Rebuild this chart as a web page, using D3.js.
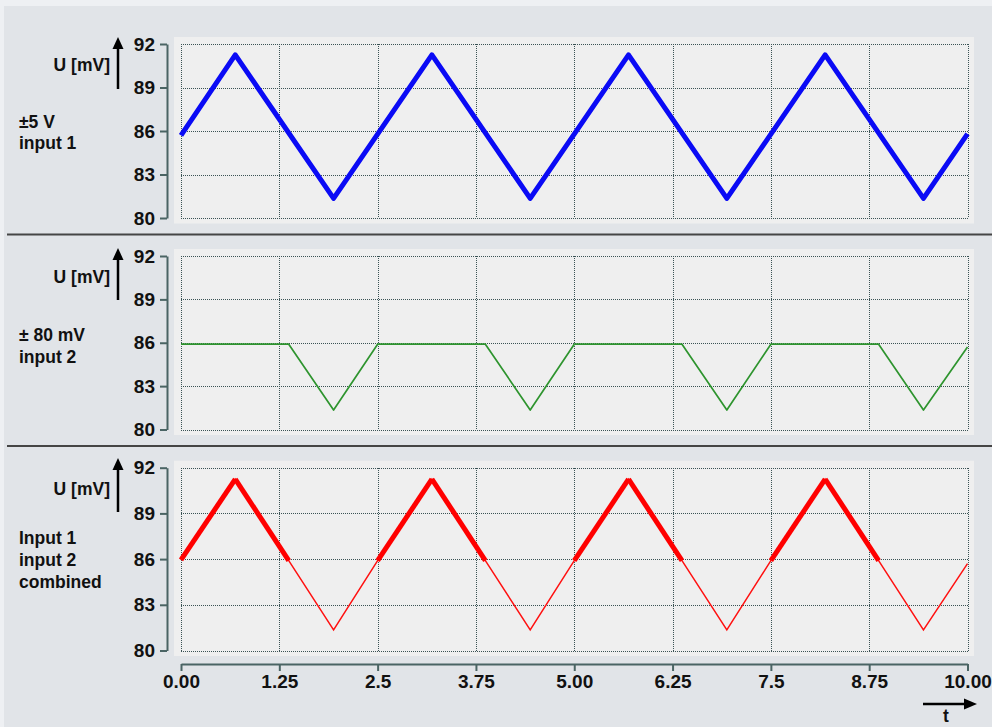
<!DOCTYPE html>
<html>
<head>
<meta charset="utf-8">
<script src="https://cdn.jsdelivr.net/npm/d3@7"></script>
<style>
  html, body { margin: 0; padding: 0; background: #eef0f3; }
  svg { display: block; }
</style>
</head>
<body>
<svg id="chart" width="992" height="727"></svg>
<script>
// ---------- data ----------
const xTicks = [0, 1.25, 2.5, 3.75, 5, 6.25, 7.5, 8.75, 10];
const xTickLabels = ["0.00", "1.25", "2.5", "3.75", "5.00", "6.25", "7.5", "8.75", "10.00"];
const yTicks = [80, 83, 86, 89, 92];
const yTickLabels = ["80", "83", "86", "89", "92"];

// input 1 (±5 V) – triangle wave vertices
const input1T = [0, 0.69, 1.94, 3.19, 4.44, 5.69, 6.94, 8.19, 9.44, 10];
const input1V = [85.7, 91.25, 81.35, 91.25, 81.35, 91.25, 81.35, 91.25, 81.35, 85.8];

// input 2 (±80 mV) – clipped wave vertices
const input2T = [0, 1.37, 1.94, 2.5, 3.87, 4.44, 5.0, 6.37, 6.94, 7.5, 8.87, 9.44, 10];
const input2V = [85.9, 85.9, 81.35, 85.9, 85.9, 81.35, 85.9, 85.9, 81.35, 85.9, 85.9, 81.35, 85.7];

// combined – vertices; segments above the input 2 level are drawn thick
const combinedT = [0, 0.69, 1.37, 1.94, 2.5, 3.19, 3.87, 4.44, 5.0, 5.69, 6.37, 6.94, 7.5, 8.19, 8.87, 9.44, 10];
const combinedV = [85.95, 91.25, 85.9, 81.35, 85.9, 91.25, 85.9, 81.35, 85.9, 91.25, 85.9, 81.35, 85.9, 91.25, 85.9, 81.35, 85.7];
const combinedThreshold = 85.9;

const panelLabels = [
  ["±5 V", "input 1"],
  ["± 80 mV", "input 2"],
  ["Input 1", "input 2", "combined"]
];
const yAxisTitle = "U [mV]";
const xAxisTitle = "t";

// ---------- layout ----------
const svg = d3.select("#chart");
const W = 992, H = 727;
const FONT = "'Liberation Sans', Arial, sans-serif";

svg.append("rect").attr("x", 4).attr("y", 6).attr("width", W - 4).attr("height", H - 6).attr("fill", "#e1e4e8");

const x = d3.scaleLinear().domain([0, 10]).range([181, 967.5]);

const panels = [
  { top: 44, bottom: 218, labelY: [122, 143], titleY: 65, arrowTop: 37, arrowBottom: 89 },
  { top: 256, bottom: 429.5, labelY: [335, 357], titleY: 277, arrowTop: 248, arrowBottom: 300 },
  { top: 467.7, bottom: 650.5, labelY: [538, 560, 582], titleY: 489, arrowTop: 458, arrowBottom: 512 }
];

// dividers
[234.5, 446].forEach(yy => {
  svg.append("line").attr("x1", 7).attr("x2", W).attr("y1", yy).attr("y2", yy)
    .attr("stroke", "#454545").attr("stroke-width", 2);
});

const gridColor = "#3a5254";
const axisColor = "#4a6464";

panels.forEach((p, i) => {
  const y = d3.scaleLinear().domain([80, 92]).range([p.bottom, p.top]);
  p.y = y;
  // plot background
  svg.append("rect")
    .attr("x", x.range()[0] - 7).attr("y", p.top - 7)
    .attr("width", x.range()[1] - x.range()[0] + 13.5)
    .attr("height", p.bottom - p.top + 12.5)
    .attr("fill", "#efefef");

  const g = svg.append("g").attr("shape-rendering", "crispEdges");
  // grid
  g.selectAll("line.hg").data(yTicks).join("line")
    .attr("x1", x(0)).attr("x2", x(10))
    .attr("y1", d => Math.round(y(d)) + 0.5).attr("y2", d => Math.round(y(d)) + 0.5)
    .attr("stroke", gridColor).attr("stroke-width", 1).attr("stroke-dasharray", "1,1");
  g.selectAll("line.vg").data(xTicks).join("line")
    .attr("x1", d => Math.round(x(d)) + 0.5).attr("x2", d => Math.round(x(d)) + 0.5)
    .attr("y1", p.top).attr("y2", p.bottom)
    .attr("stroke", gridColor).attr("stroke-width", 1).attr("stroke-dasharray", "1,1");

  // y axis
  const ya = svg.append("g").attr("transform", "translate(167,0)")
    .call(d3.axisLeft(y).tickValues(yTicks).tickFormat((d, k) => yTickLabels[k])
      .tickSize(7).tickSizeOuter(0).tickPadding(5));
  ya.select(".domain").attr("stroke", axisColor).attr("stroke-width", 2);
  ya.selectAll(".tick line").attr("stroke", axisColor).attr("stroke-width", 2);
  ya.selectAll(".tick text").attr("font-family", FONT).attr("font-weight", "bold")
    .attr("font-size", 19).attr("fill", "#111");

  // y arrow
  svg.append("line").attr("x1", 118).attr("x2", 118).attr("y1", p.arrowBottom).attr("y2", p.arrowTop + 10)
    .attr("stroke", "#000").attr("stroke-width", 2.5);
  svg.append("path")
    .attr("d", `M118,${p.arrowTop} L112.5,${p.arrowTop + 12} L123.5,${p.arrowTop + 12} Z`)
    .attr("fill", "#000");
  svg.append("text").attr("x", 110).attr("y", p.titleY).attr("dy", "0.35em")
    .attr("text-anchor", "end").attr("font-family", FONT).attr("font-weight", "bold")
    .attr("font-size", 17.5).attr("fill", "#111").text(yAxisTitle);

  panelLabels[i].forEach((t, k) => {
    svg.append("text").attr("x", 19).attr("y", p.labelY[k]).attr("dy", "0.35em")
      .attr("font-family", FONT).attr("font-weight", "bold")
      .attr("font-size", 17.5).attr("fill", "#111").text(t);
  });
});

// ---------- series ----------
const line = yScale => d3.line().x(d => x(d[0])).y(d => yScale(d[1]));

// input 1
svg.append("path")
  .datum(input1T.map((t, k) => [t, input1V[k]]))
  .attr("d", line(panels[0].y))
  .attr("fill", "none").attr("stroke", "#0a0af5").attr("stroke-width", 5)
  .attr("stroke-linejoin", "round");

// input 2
svg.append("path")
  .datum(input2T.map((t, k) => [t, input2V[k]]))
  .attr("d", line(panels[1].y))
  .attr("fill", "none").attr("stroke", "#2e942e").attr("stroke-width", 1.7)
  .attr("stroke-linejoin", "round");

// combined: thin full line
const combo = combinedT.map((t, k) => [t, combinedV[k]]);
svg.append("path")
  .datum(combo)
  .attr("d", line(panels[2].y))
  .attr("fill", "none").attr("stroke", "#ff1010").attr("stroke-width", 1.5);

// combined: thick segments where above input 2 level
const thickSegs = [];
for (let k = 0; k < combo.length - 1; k++) {
  if (combo[k][1] >= combinedThreshold - 1e-9 && combo[k + 1][1] >= combinedThreshold - 1e-9) {
    thickSegs.push([combo[k], combo[k + 1]]);
  }
}
svg.selectAll("path.thick").data(thickSegs).join("path")
  .attr("d", d => line(panels[2].y)(d))
  .attr("fill", "none").attr("stroke", "#ff0000").attr("stroke-width", 5)
  .attr("stroke-linejoin", "round");

// ---------- x axis ----------
const xa = svg.append("g").attr("transform", "translate(0,664)")
  .call(d3.axisBottom(x).tickValues(xTicks).tickFormat((d, k) => xTickLabels[k])
    .tickSize(7).tickSizeOuter(0).tickPadding(4));
xa.select(".domain").attr("stroke", axisColor).attr("stroke-width", 2);
xa.selectAll(".tick line").attr("stroke", axisColor).attr("stroke-width", 2);
xa.selectAll(".tick text").attr("font-family", FONT).attr("font-weight", "bold")
  .attr("font-size", 19).attr("fill", "#111");

// t arrow
svg.append("line").attr("x1", 923).attr("x2", 966).attr("y1", 704).attr("y2", 704)
  .attr("stroke", "#000").attr("stroke-width", 2.5);
svg.append("path").attr("d", "M977,704 L964,698.5 L964,709.5 Z").attr("fill", "#000");
svg.append("text").attr("x", 946).attr("y", 716).attr("dy", "0.35em").attr("text-anchor", "middle")
  .attr("font-family", FONT).attr("font-weight", "bold").attr("font-size", 17.5)
  .attr("fill", "#111").text(xAxisTitle);
</script>
</body>
</html>
